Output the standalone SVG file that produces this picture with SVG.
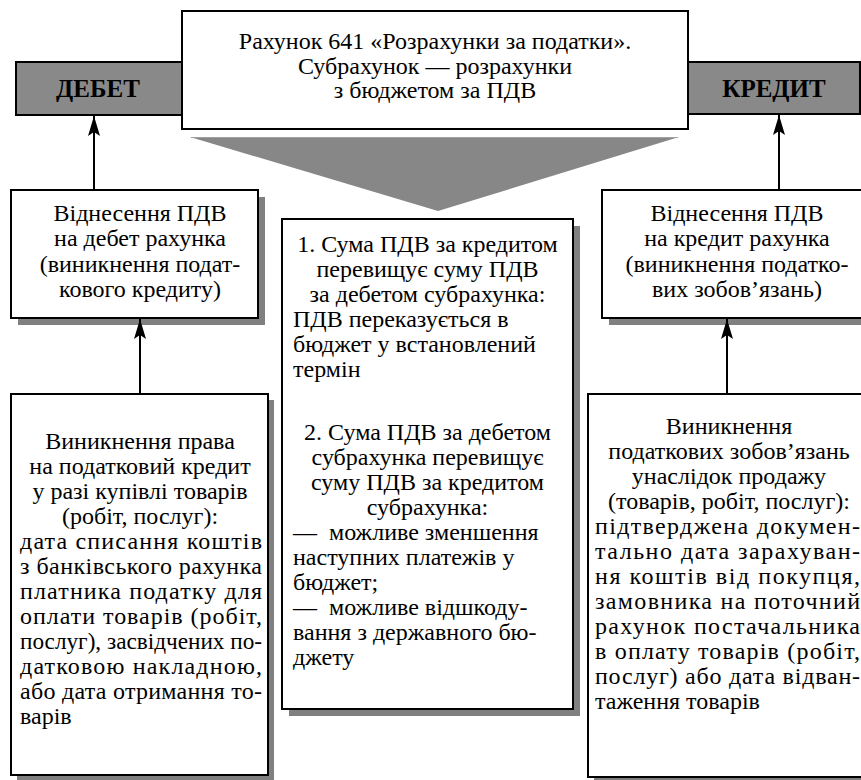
<svg xmlns="http://www.w3.org/2000/svg" width="861" height="780" viewBox="0 0 861 780">
<style>
.box{fill:#fff;stroke:#000;stroke-width:2}
.hdr{fill:#898989;stroke:#000;stroke-width:2}
.sh{fill:#808080}
.t{font-family:"Liberation Serif","Times New Roman",serif;font-size:24px;fill:#000}
.b{font-family:"Liberation Serif","Times New Roman",serif;font-size:25px;font-weight:bold;fill:#000}
.c{text-anchor:middle}
.ln{stroke:#000;stroke-width:2;fill:none}
</style>
<defs>
<marker id="ah" viewBox="-1 -7 22 14" refX="20" refY="0" markerWidth="22" markerHeight="14" markerUnits="userSpaceOnUse" orient="auto">
<path d="M20,0 L0,-6 L4,0 L0,6 Z" fill="#000"/>
</marker>
</defs>

<g id="debet">
<rect class="hdr" x="16" y="62" width="184" height="53"/>
<text class="b c" x="98" y="97">ДЕБЕТ</text>
</g>
<g id="kredyt">
<rect class="hdr" x="670" y="62" width="190" height="52"/>
<text class="b c" x="774" y="97">КРЕДИТ</text>
</g>

<g id="title">
<rect class="box" x="182" y="11" width="506" height="118"/>
<text class="t c" x="435" y="49">Рахунок 641 «Розрахунки за податки».</text>
<text class="t c" x="435" y="73.5">Субрахунок — розрахунки</text>
<text class="t c" x="435" y="98">з бюджетом за ПДВ</text>
</g>

<g id="pointer">
<polygon points="190,137 679,137 438,211" fill="#878787"/>
<line x1="191" y1="137.5" x2="678" y2="137.5" stroke="#a0a0a0" stroke-width="1"/>
</g>

<g id="left-mid">
<rect class="sh" x="18" y="197" width="247" height="128"/>
<rect class="box" x="11" y="190" width="247" height="128"/>
<text class="t c" x="140" y="221">Віднесення ПДВ</text>
<text class="t c" x="140" y="246">на дебет рахунка</text>
<text class="t c" x="140" y="272">(виникнення подат-</text>
<text class="t c" x="140" y="297">кового кредиту)</text>
</g>

<g id="right-mid">
<rect class="sh" x="609" y="197" width="270" height="128"/>
<rect class="box" x="602" y="190" width="270" height="128"/>
<text class="t c" x="737" y="221">Віднесення ПДВ</text>
<text class="t c" x="737" y="246">на кредит рахунка</text>
<text class="t c" x="737" y="272">(виникнення податко-</text>
<text class="t c" x="737" y="297">вих зобов’язань)</text>
</g>

<g id="center">
<rect class="sh" x="289" y="226" width="291" height="490"/>
<rect class="box" x="282" y="219" width="291" height="490"/>
<text class="t c" x="427.5" y="252">1. Сума ПДВ за кредитом</text>
<text class="t c" x="427.5" y="277">перевищує суму ПДВ</text>
<text class="t c" x="427.5" y="302">за дебетом субрахунка:</text>
<text class="t" x="293" y="327">ПДВ переказується в</text>
<text class="t" x="293" y="352">бюджет у встановлений</text>
<text class="t" x="293" y="377">термін</text>
<text class="t c" x="427.5" y="440">2. Сума ПДВ за дебетом</text>
<text class="t c" x="427.5" y="465">субрахунка перевищує</text>
<text class="t c" x="427.5" y="490">суму ПДВ за кредитом</text>
<text class="t c" x="427.5" y="515">субрахунка:</text>
<text class="t" x="293" y="540" xml:space="preserve">—  можливе зменшення</text>
<text class="t" x="293" y="565">наступних платежів у</text>
<text class="t" x="293" y="590">бюджет;</text>
<text class="t" x="293" y="615" xml:space="preserve">—  можливе відшкоду-</text>
<text class="t" x="293" y="640">вання з державного бю-</text>
<text class="t" x="293" y="665">джету</text>
</g>

<g id="left-bottom">
<rect class="sh" x="17" y="400" width="257" height="381"/>
<rect class="box" x="11" y="394" width="257" height="381"/>
<text class="t c" x="140" y="449">Виникнення права</text>
<text class="t c" x="140" y="474">на податковий кредит</text>
<text class="t c" x="140" y="499">у разі купівлі товарів</text>
<text class="t c" x="140" y="524">(робіт, послуг):</text>
<text class="t" x="20" y="549" textLength="242" lengthAdjust="spacing">дата списання коштів</text>
<text class="t" x="20" y="574" textLength="242" lengthAdjust="spacing">з банківського рахунка</text>
<text class="t" x="20" y="599" textLength="242" lengthAdjust="spacing">платника податку для</text>
<text class="t" x="20" y="624" textLength="242" lengthAdjust="spacing">оплати товарів (робіт,</text>
<text class="t" x="20" y="649" textLength="242" lengthAdjust="spacingAndGlyphs">послуг), засвідчених по-</text>
<text class="t" x="20" y="674" textLength="242" lengthAdjust="spacing">датковою  накладною,</text>
<text class="t" x="20" y="699" textLength="242" lengthAdjust="spacing">або дата отримання то-</text>
<text class="t" x="20" y="724">варів</text>
</g>

<g id="right-bottom">
<rect class="sh" x="594" y="400" width="282" height="383"/>
<rect class="box" x="588" y="394" width="282" height="383"/>
<text class="t c" x="729" y="434">Виникнення</text>
<text class="t c" x="729" y="459">податкових зобов’язань</text>
<text class="t c" x="729" y="484">унаслідок продажу</text>
<text class="t c" x="729" y="509">(товарів, робіт, послуг):</text>
<text class="t" x="595" y="534" textLength="265" lengthAdjust="spacing">підтверджена  докумен-</text>
<text class="t" x="595" y="559" textLength="265" lengthAdjust="spacing">тально дата зарахуван-</text>
<text class="t" x="595" y="584" textLength="265" lengthAdjust="spacing">ня коштів від покупця,</text>
<text class="t" x="595" y="609" textLength="265" lengthAdjust="spacing">замовника на поточний</text>
<text class="t" x="595" y="634" textLength="265" lengthAdjust="spacing">рахунок  постачальника</text>
<text class="t" x="595" y="659" textLength="265" lengthAdjust="spacing">в оплату товарів (робіт,</text>
<text class="t" x="595" y="684" textLength="265" lengthAdjust="spacing">послуг) або дата відван-</text>
<text class="t" x="595" y="709">таження товарів</text>
</g>

<g id="connectors">
<line class="ln" x1="94" y1="190" x2="94" y2="116" marker-end="url(#ah)"/>
<line class="ln" x1="779" y1="190" x2="779" y2="115" marker-end="url(#ah)"/>
<line class="ln" x1="140" y1="394" x2="140" y2="319" marker-end="url(#ah)"/>
<line class="ln" x1="727" y1="394" x2="727" y2="319" marker-end="url(#ah)"/>
</g>
</svg>
